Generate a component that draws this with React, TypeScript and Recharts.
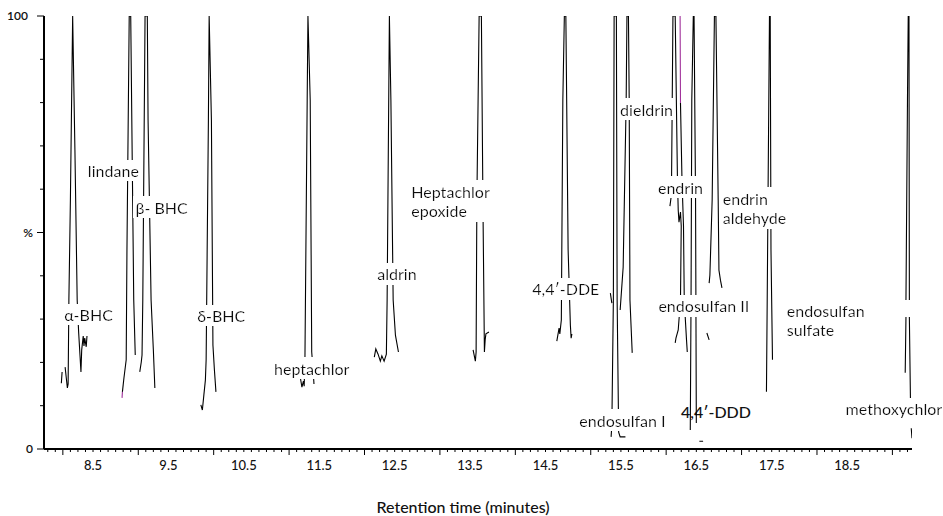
import { Line, LineChart, ReferenceDot, XAxis, YAxis } from "recharts"

type Pt = [number, number]

// [retention time (min), relative abundance (%)], peak by peak
const alphaBhcStart: Pt[] = [[8.08, 15.2], [8.09, 17.8]]
const alphaBhc: Pt[] = [
  [8.13, 18.9], [8.16, 14.1], [8.17, 15.0], [8.18, 34.4], [8.2, 57.5], [8.23, 100],
  [8.26, 69.1], [8.29, 34.4], [8.31, 26.8], [8.34, 17.8], [8.35, 22.9], [8.37, 26.1],
  [8.38, 23.8], [8.39, 25.6], [8.41, 23.6], [8.42, 26.1],
]
const lindane: Pt[] = [
  [8.89, 13.2], [8.9, 14.8], [8.91, 16.4], [8.94, 20.6], [8.95, 46.0], [8.98, 100],
  [9.0, 100], [9.02, 66.7], [9.04, 34.4], [9.06, 21.7],
]
const betaBhc: Pt[] = [
  [9.12, 17.8], [9.14, 20.1], [9.15, 21.7], [9.16, 34.4], [9.19, 100], [9.22, 100],
  [9.23, 76.0], [9.27, 34.4], [9.3, 22.9], [9.32, 14.1],
]
const deltaBhc: Pt[] = [
  [9.93, 10.2], [9.95, 9.0], [9.97, 12.5], [9.99, 15.9], [10.0, 20.6], [10.03, 76.0],
  [10.04, 100], [10.07, 76.0], [10.09, 24.0], [10.11, 18.2], [10.13, 13.2],
]
const heptachlor: Pt[] = [
  [11.25, 16.4], [11.27, 14.3], [11.29, 15.7], [11.3, 14.5], [11.31, 20.6], [11.34, 80.6],
  [11.35, 100], [11.38, 80.6], [11.4, 22.4], [11.42, 17.8], [11.43, 15.0],
]
const aldrin: Pt[] = [
  [12.23, 21.2], [12.25, 23.1], [12.28, 21.9], [12.31, 20.3], [12.33, 21.5], [12.36, 20.3],
  [12.39, 21.9], [12.4, 34.4], [12.43, 100], [12.45, 80.6], [12.48, 34.4], [12.51, 26.3],
  [12.55, 22.4],
]
const heptachlorEpoxide: Pt[] = [
  [13.54, 22.9], [13.57, 20.3], [13.58, 22.4], [13.59, 57.5], [13.62, 100], [13.65, 100],
  [13.67, 57.5], [13.69, 22.4], [13.7, 25.2], [13.71, 26.6], [13.75, 27.0],
]
const ddeP: Pt[] = [
  [14.65, 24.9], [14.68, 27.9], [14.69, 26.6], [14.71, 29.8], [14.73, 80.6], [14.75, 100],
  [14.77, 100], [14.8, 46.0], [14.83, 28.6], [14.84, 25.6], [14.85, 26.6],
]
const endosulfanIShoulder: Pt[] = [[15.36, 36.0], [15.38, 33.7]]
const endosulfanI: Pt[] = [
  [15.37, 2.8], [15.38, 5.5], [15.4, 34.4], [15.41, 100], [15.44, 100], [15.45, 34.4],
  [15.47, 3.9], [15.49, 2.8], [15.56, 2.8],
]
const dieldrin: Pt[] = [
  [15.49, 32.1], [15.53, 42.0], [15.57, 80.6], [15.58, 100], [15.6, 100], [15.61, 80.6],
  [15.62, 34.4], [15.65, 22.2],
]
const endrin: Pt[] = [
  [16.15, 56.1], [16.17, 58.7], [16.19, 100], [16.22, 100], [16.25, 62.1], [16.26, 55.2],
  [16.27, 52.4], [16.29, 54.7], [16.3, 51.5], [16.29, 34.4], [16.26, 27.5], [16.23, 25.6],
  [16.22, 24.5],
]
const endosulfanII: Pt[] = [
  [16.29, 79.9], [16.31, 62.1], [16.33, 51.5], [16.34, 34.4], [16.37, 25.2], [16.38, 22.4],
]
const ddd: Pt[] = [
  [16.42, 4.4], [16.43, 34.4], [16.44, 80.6], [16.46, 100], [16.47, 100], [16.49, 57.5],
  [16.5, 6.0],
]
const dddTail: Pt[] = [[16.54, 1.8], [16.59, 1.8]]
const endrinAldehydeLead: Pt[] = [[16.64, 26.8], [16.67, 25.2]]
const endrinAldehyde: Pt[] = [
  [16.67, 38.3], [16.68, 40.2], [16.71, 57.5], [16.74, 100], [16.76, 100], [16.79, 57.5],
  [16.8, 41.3], [16.82, 39.0], [16.84, 37.2],
]
const endosulfanSulfate: Pt[] = [
  [17.43, 13.2], [17.44, 34.4], [17.47, 100], [17.48, 100], [17.49, 46.0], [17.51, 20.6],
]
const methoxychlorLow: Pt[] = [[19.27, 17.6], [19.28, 30.5]]
const methoxychlor: Pt[] = [
  [19.28, 34.4], [19.3, 80.6], [19.31, 100], [19.32, 100], [19.325, 34.4],
]
const methoxychlorTail: Pt[] = [[19.325, 30.5], [19.34, 10.6]]
const methoxychlorEnd: Pt[] = [[19.35, 4.8], [19.36, 2.5]]

// bits of the trace printed in magenta
const lindaneMagenta: Pt[] = [[8.885, 11.8], [8.89, 13.2]]
const endrinMagenta: Pt[] = [[16.285, 100], [16.29, 79.9]]

const xTickLabels = [8.5, 9.5, 10.5, 11.5, 12.5, 13.5, 14.5, 15.5, 16.5, 17.5, 18.5]
const yTickValues = [0, 10, 20, 30, 40, 50, 60, 70, 80, 90, 100]
const yLabelValues = [0, 50, 100]
const yLabelTexts = ["0", "%", "100"]

// compound names, placed at (retention time, %) of their first line
const centeredLabels = [
  { lines: ["α-BHC"], t: 8.44, v: 30.9 },
  { lines: ["lindane"], t: 8.77, v: 64.2 },
  { lines: ["β- BHC"], t: 9.41, v: 55.7 },
  { lines: ["δ-BHC"], t: 10.2, v: 30.7 },
  { lines: ["heptachlor"], t: 11.4, v: 18.5 },
  { lines: ["aldrin"], t: 12.53, v: 40.3 },
  { lines: ["4,4′-DDE"], t: 14.77, v: 36.8 },
  { lines: ["endosulfan I"], t: 15.52, v: 6.5 },
  { lines: ["dieldrin"], t: 15.84, v: 78.3 },
  { lines: ["endrin"], t: 16.29, v: 60.3 },
  { lines: ["endosulfan II"], t: 16.6, v: 32.9 },
  { lines: ["methoxychlor"], t: 19.12, v: 9.1 },
]
const leftLabels = [
  { lines: ["Heptachlor", "epoxide"], t: 12.72, v: 59.2 },
  { lines: ["endrin", "aldehyde"], t: 16.85, v: 57.6 },
  { lines: ["endosulfan", "sulfate"], t: 17.7, v: 31.9 },
]
// drawn under the trace, with no white box
const plainLabels = [{ lines: ["4,4′-DDD"], t: 16.76, v: 8.5 }]

const traceSegments = [
  alphaBhcStart, alphaBhc, lindane, betaBhc, deltaBhc, heptachlor, aldrin,
  heptachlorEpoxide, ddeP, endosulfanIShoulder, endosulfanI, dieldrin, endrin,
  endosulfanII, ddd, dddTail, endrinAldehydeLead, endrinAldehyde, endosulfanSulfate,
  methoxychlorLow, methoxychlor, methoxychlorTail, methoxychlorEnd,
]
const magentaSegments = [lindaneMagenta, endrinMagenta]

// one series per colour, segments split by null so the line breaks between them
const toSeries = (segments: Pt[][]) =>
  segments.flatMap((seg) => [
    ...seg.map(([t, v]) => ({ t, v: v as number | null })),
    { t: seg[seg.length - 1][0], v: null },
  ])

const traceData = toSeries(traceSegments)
const magentaData = toSeries(magentaSegments)

const xTicks = Array.from({ length: 115 }, (_, i) => Math.round(79 + i) / 10)

const FONT = "Lato, 'Open Sans', sans-serif"

const XTick = ({ x, y, payload }: any) => {
  const value = payload.value as number
  const major = Math.abs(value - Math.floor(value) - 0.1) < 0.001
  const label = xTickLabels.find((l) => Math.abs(l - value) < 0.001)
  return (
    <g>
      <line x1={x} x2={x} y1={y} y2={y + (major ? 6 : 3)} stroke="#000" strokeWidth={1} />
      {label !== undefined && (
        <text x={x} y={y + 21} textAnchor="middle" fontSize={13} fontWeight={500} fontFamily={FONT} fill="#111">
          {label}
        </text>
      )}
    </g>
  )
}

const YTick = ({ x, y, payload }: any) => {
  const idx = yLabelValues.indexOf(payload.value)
  return (
    <g>
      <line x1={x} x2={x - (idx >= 0 ? 7 : 4)} y1={y} y2={y} stroke="#000" strokeWidth={1} />
      {idx >= 0 && (
        <text
          x={x - (payload.value === 100 ? 16 : 11)}
          y={y}
          dy="0.36em"
          textAnchor="end"
          fontSize={12}
          fontWeight={600}
          fontFamily={FONT}
          fill="#111"
        >
          {yLabelTexts[idx]}
        </text>
      )}
    </g>
  )
}

const PeakLabel = ({ cx, cy, lines, anchor, id }: any) => (
  <g>
    {id && (
      <defs>
        <filter id={id} x="-0.03" y="-0.04" width="1.06" height="1.08">
          <feFlood floodColor="#fff" />
          <feComposite in="SourceGraphic" />
        </filter>
      </defs>
    )}
    <text
      x={cx}
      y={cy}
      textAnchor={anchor}
      fontSize={16}
      fontWeight={500}
      fontFamily={FONT}
      fill="#111"
      filter={id ? `url(#${id})` : undefined}
    >
      {lines.map((ln: string, j: number) => (
        <tspan key={j} x={cx} dy={j === 0 ? "0.36em" : 19}>
          {ln}
        </tspan>
      ))}
    </text>
  </g>
)

export default function App() {
  return (
    <div style={{ position: "absolute", left: 0, top: 0 }}>
      <LineChart
        width={943}
        height={516}
        margin={{ top: 16, right: 31, left: 0, bottom: 0 }}
      >
        <XAxis
          dataKey="t"
          type="number"
          domain={[7.85, 19.36]}
          allowDataOverflow
          ticks={xTicks}
          interval={0}
          tick={<XTick />}
          tickLine={false}
          tickSize={0}
          tickMargin={0}
          height={67}
          axisLine={{ stroke: "#000", strokeWidth: 2 }}
          label={{
            content: ({ viewBox }: any) => (
              <text
                x={viewBox.x + viewBox.width / 2 - 15}
                y={viewBox.y + viewBox.height - 3}
                textAnchor="middle"
                fontSize={16}
                fontWeight={500}
                fontFamily={FONT}
                fill="#111"
              >
                Retention time (minutes)
              </text>
            ),
          }}
        />
        <YAxis
          type="number"
          domain={[0, 100]}
          allowDataOverflow
          ticks={yTickValues}
          interval={0}
          tick={<YTick />}
          tickLine={false}
          tickSize={0}
          tickMargin={0}
          width={44}
          axisLine={{ stroke: "#000", strokeWidth: 2 }}
        />
        {plainLabels.map((l, i) => (
          <ReferenceDot
            key={`p${i}`}
            x={l.t}
            y={l.v}
            r={0}
            ifOverflow="visible"
            zIndex={0}
            shape={(p: any) => <PeakLabel {...p} lines={l.lines} anchor="middle" />}
          />
        ))}
        <Line
          data={traceData}
          dataKey="v"
          type="linear"
          stroke="#000"
          strokeWidth={1.1}
          dot={false}
          activeDot={false}
          isAnimationActive={false}
        />
        <Line
          data={magentaData}
          dataKey="v"
          type="linear"
          stroke="#a0309a"
          strokeWidth={1.1}
          dot={false}
          activeDot={false}
          isAnimationActive={false}
        />
        {centeredLabels.map((l, i) => (
          <ReferenceDot
            key={`c${i}`}
            x={l.t}
            y={l.v}
            r={0}
            ifOverflow="visible"
            zIndex={2500}
            shape={(p: any) => <PeakLabel {...p} lines={l.lines} anchor="middle" id={`lbc${i}`} />}
          />
        ))}
        {leftLabels.map((l, i) => (
          <ReferenceDot
            key={`l${i}`}
            x={l.t}
            y={l.v}
            r={0}
            ifOverflow="visible"
            zIndex={2500}
            shape={(p: any) => <PeakLabel {...p} lines={l.lines} anchor="start" id={`lbl${i}`} />}
          />
        ))}
      </LineChart>
    </div>
  )
}
